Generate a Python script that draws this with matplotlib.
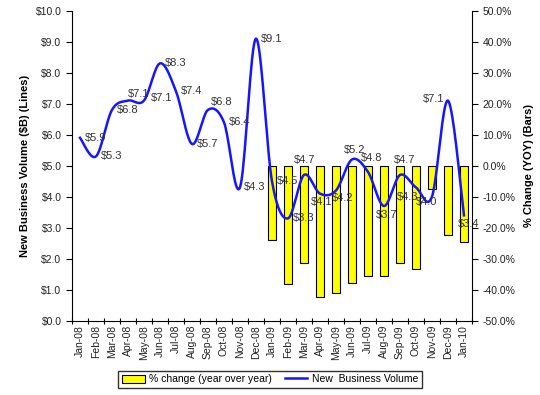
import numpy as np
import matplotlib.pyplot as plt
from matplotlib.patches import Patch
from matplotlib.lines import Line2D

plt.rcParams["font.family"] = ["Liberation Sans", "DejaVu Sans"]

months = ["Jan-08", "Feb-08", "Mar-08", "Apr-08", "May-08", "Jun-08", "Jul-08",
          "Aug-08", "Sep-08", "Oct-08", "Nov-08", "Dec-08", "Jan-09", "Feb-09",
          "Mar-09", "Apr-09", "May-09", "Jun-09", "Jul-09", "Aug-09", "Sep-09",
          "Oct-09", "Nov-09", "Dec-09", "Jan-10"]

volume = [5.9, 5.3, 6.8, 7.1, 7.1, 8.3, 7.4, 5.7, 6.8, 6.4, 4.3, 9.1,
          4.5, 3.3, 4.7, 4.1, 4.2, 5.2, 4.8, 3.7, 4.7, 4.3, 4.0, 7.1, 3.4]

# yoy % change only exists from Jan-09 on
bar_months = months[12:]
pct_change = [-23.9, -38.1, -31.3, -42.5, -41.0, -37.7, -35.5,
              -35.5, -31.3, -33.2, -7.4, -22.3, -24.7]

# data label offsets (pixels) relative to each point
label_offsets = [(16, 0), (16, 0), (16, 0), (11, 7), (18, 3), (16, 0), (16, 0),
                 (16, 0), (14, 8), (16, 0), (15, 0), (16, 0), (16, 0), (16, 0),
                 (1, 15), (2, -8), (7, -7), (3, 10), (4, 14), (3, -9), (5, 15),
                 (-8, -10), (-5, -5), (-14, 2), (5, -9)]


def smooth(x, y, n=20):
    # catmull-rom style bezier, roughly what excel does for smoothed lines
    x = np.asarray(x, float)
    y = np.asarray(y, float)
    px = np.concatenate([[x[0]], x, [x[-1]]])
    py = np.concatenate([[y[0]], y, [y[-1]]])
    xs, ys = [], []
    t = np.linspace(0, 1, n, endpoint=False)
    for i in range(1, len(px) - 2):
        p0 = np.array([px[i], py[i]])
        p3 = np.array([px[i + 1], py[i + 1]])
        c1 = p0 + (p3 - np.array([px[i - 1], py[i - 1]])) / 6
        c2 = p3 - (np.array([px[i + 2], py[i + 2]]) - p0) / 6
        b = ((1 - t) ** 3)[:, None] * p0 + (3 * (1 - t) ** 2 * t)[:, None] * c1 \
            + (3 * (1 - t) * t ** 2)[:, None] * c2 + (t ** 3)[:, None] * p3
        xs.extend(b[:, 0])
        ys.extend(b[:, 1])
    xs.append(x[-1])
    ys.append(y[-1])
    return xs, ys


fig = plt.figure(figsize=(5.4, 3.95), dpi=100)
ax = fig.add_axes([0.1333, 0.188, 0.7407, 0.785])
ax2 = ax.twinx()

xpos = np.arange(len(months))
bar_x = [months.index(m) for m in bar_months]

# bars on the right axis, drawn behind the line
ax2.bar(bar_x, pct_change, width=0.45, color="#FFFF00", edgecolor="black",
        linewidth=0.8, zorder=1)
ax2.set_ylim(-50, 50)
ax2.set_yticks(np.arange(-50, 51, 10))
ax2.set_yticklabels([f"{v:.1f}%" for v in np.arange(-50, 51, 10)])

ax.set_zorder(ax2.get_zorder() + 1)
ax.patch.set_visible(False)

sx, sy = smooth(xpos, volume)
ax.plot(sx, sy, color="#1515FF", linewidth=1.8, zorder=3)
for i, v in enumerate(volume):
    dx, dy = label_offsets[i]
    ax.annotate(f"${v:.1f}", (xpos[i], v), xytext=(dx, dy),
                textcoords="offset pixels", ha="center", va="center",
                fontsize=8, color="#333333", zorder=4)

ax.set_xlim(-0.5, len(months) - 0.5)
ax.set_ylim(0, 10)
ax.set_yticks(np.arange(0, 11, 1))
ax.set_yticklabels([f"${v:.1f}" for v in np.arange(0, 11, 1)])

# ticks between categories, labels centred on them
ax.set_xticks(np.arange(len(months) + 1) - 0.5)
ax.set_xticklabels([])
ax.set_xticks(xpos, minor=True)
ax.set_xticklabels(months, minor=True, rotation=90)

for a in (ax, ax2):
    a.spines["top"].set_visible(False)
    a.tick_params(which="both", labelsize=7.5, labelcolor="#222222", width=0.8)
ax.tick_params(axis="x", which="minor", length=0, pad=3)
ax.tick_params(axis="x", which="major", length=4, direction="inout")
ax.spines["right"].set_visible(False)
ax2.spines["left"].set_visible(False)
ax2.spines["bottom"].set_visible(False)
ax.tick_params(axis="y", length=4)
ax2.tick_params(axis="y", length=4)

ax.set_ylabel("New Business Volume ($B) (Lines)", fontsize=8, fontweight="bold")
ax2.set_ylabel("% Change (YOY) (Bars)", fontsize=8, fontweight="bold", labelpad=6)

handles = [Patch(facecolor="#FFFF00", edgecolor="black", linewidth=0.8),
           Line2D([0], [0], color="#1515FF", linewidth=1.8)]
fig.legend(handles, ["% change (year over year)", "New  Business Volume"],
           loc="lower center", bbox_to_anchor=(0.5, 0.005), ncol=2,
           fontsize=7.5, frameon=True, fancybox=False, edgecolor="black",
           handlelength=2.2, handleheight=0.8, borderpad=0.35, columnspacing=1.2,
           handletextpad=0.4)

fig.savefig("out.png", dpi=100)
